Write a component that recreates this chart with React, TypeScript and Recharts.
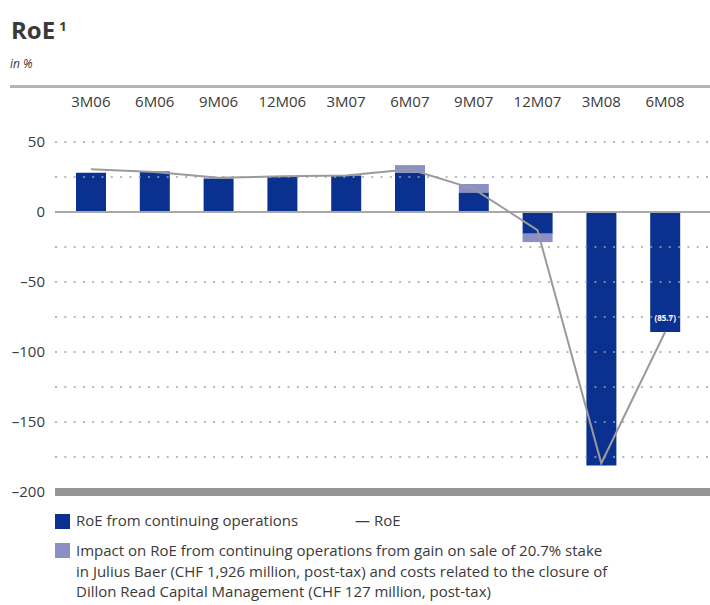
import { Bar, ComposedChart, LabelList, Line, ReferenceLine, XAxis, YAxis } from "recharts";

const periods = ["3M06", "6M06", "9M06", "12M06", "3M07", "6M07", "9M07", "12M07", "3M08", "6M08"];
// RoE from continuing operations (dark bars)
const roeContinuing = [28, 29, 24, 25.5, 26, 28, 14, -15.5, -181, -85.7];
// Julius Baer gain / DRCM closure impact (light bars)
const impact = [null, null, null, null, null, 5.5, 6, -6, null, null];
// RoE (grey line)
const roe = [30.5, 28.6, 24.5, 25.5, 26, 30.5, 16.5, -13, -179.5, -85.7];
const yTicks = [50, 0, -50, -100, -150, -200];
const gridValues = [50, 25, -25, -50, -75, -100, -125, -150, -175];

const data = periods.map((p, i) => ({
  period: p,
  cont: roeContinuing[i],
  impact: impact[i],
  roe: roe[i],
}));

const FONT = "'Open Sans', sans-serif";
const DARK = "#0b3190";
const LIGHT = "#8a8fc6";
const TEXT = "#3a3a3a";

function ValueTag(props: any) {
  const { x, y, width, height, index, value } = props;
  if (index !== periods.length - 1) return null;
  const bottom = Math.max(y, y + height);
  return (
    <text
      x={x + width / 2}
      y={bottom - 11}
      textAnchor="middle"
      fill="#fff"
      fontSize={8}
      fontWeight={700}
      fontFamily={FONT}
    >
      ({Math.abs(value).toFixed(1)})
    </text>
  );
}

export default function App() {
  return (
    <div style={{ position: "absolute", left: 0, top: 0, width: 710, height: 605, fontFamily: FONT, color: TEXT }}>
      <div style={{ position: "absolute", left: 11, top: 11, fontSize: 24, fontWeight: 700, lineHeight: "30px" }}>
        RoE<sup style={{ fontSize: 13, marginLeft: 4, verticalAlign: 8 }}>1</sup>
      </div>
      <div style={{ position: "absolute", left: 10, top: 55, fontSize: 12, fontStyle: "italic" }}>in %</div>
      <div style={{ position: "absolute", left: 10, top: 85, width: 700, height: 3, background: "#b4b4b4" }} />

      <div style={{ position: "absolute", left: 0, top: 0 }}>
        <ComposedChart
          width={710}
          height={500}
          data={data}
          margin={{ top: 88, right: 0, bottom: 8, left: 0 }}
          barSize={30}
        >
          <XAxis
            dataKey="period"
            orientation="top"
            height={54}
            axisLine={false}
            tickLine={false}
            tickSize={0}
            tickMargin={35}
            padding={{ left: 4, right: 13 }}
            tick={{ fontSize: 15, fill: TEXT, fontFamily: FONT }}
            interval={0}
          />
          <YAxis
            domain={[-200, 50]}
            ticks={yTicks}
            width={55}
            axisLine={false}
            tickLine={false}
            tickSize={0}
            tickMargin={10}
            tick={{ fontSize: 15, fill: TEXT, fontFamily: FONT }}
            tickFormatter={(v: number) => (v < 0 ? `–${Math.abs(v)}` : `${v}`)}
            allowDataOverflow
          />
          {gridValues.map((v) => (
            <ReferenceLine key={v} y={v} stroke="#a0a0a0" strokeWidth={1.5} strokeDasharray="2 7.3" />
          ))}
          <ReferenceLine y={0} stroke="#a8a8a8" strokeWidth={2} />
          <ReferenceLine y={-200} stroke="#959595" strokeWidth={8} />
          <Bar dataKey="cont" stackId="roe" fill={DARK} isAnimationActive={false}>
            <LabelList dataKey="cont" content={ValueTag} />
          </Bar>
          <Bar dataKey="impact" stackId="roe" fill={LIGHT} isAnimationActive={false} />
          <Line
            dataKey="roe"
            type="linear"
            stroke="#9a9a9a"
            strokeWidth={2}
            dot={false}
            activeDot={false}
            isAnimationActive={false}
          />
        </ComposedChart>
      </div>

      <div style={{ position: "absolute", left: 55, top: 514, width: 15, height: 15, background: DARK }} />
      <div style={{ position: "absolute", left: 76, top: 510, fontSize: 15, lineHeight: "20px" }}>
        RoE from continuing operations
      </div>
      <div style={{ position: "absolute", left: 355, top: 510, fontSize: 15, lineHeight: "20px" }}>— RoE</div>
      <div style={{ position: "absolute", left: 55, top: 543, width: 15, height: 15, background: LIGHT }} />
      <div style={{ position: "absolute", left: 76, top: 540, width: 620, fontSize: 15, lineHeight: "20.5px" }}>
        Impact on RoE from continuing operations from gain on sale of 20.7% stake
        <br />
        in Julius Baer (CHF 1,926 million, post-tax) and costs related to the closure of
        <br />
        Dillon Read Capital Management (CHF 127 million, post-tax)
      </div>
    </div>
  );
}
